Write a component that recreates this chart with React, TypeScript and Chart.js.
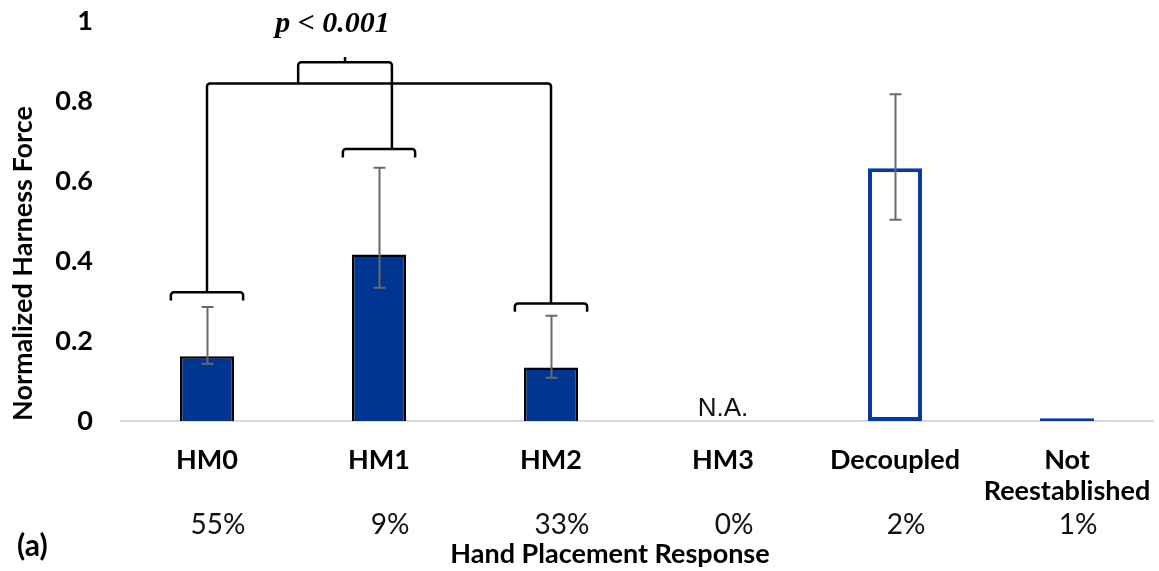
import React, { useEffect, useRef } from 'react';
import { Chart, registerables } from 'chart.js';

Chart.register(...registerables);

// ---- data ----
const categories: string[][] = [['HM0'], ['HM1'], ['HM2'], ['HM3'], ['Decoupled'], ['Not', 'Reestablished']];
const meanForce: (number | null)[] = [0.162, 0.416, 0.134, null, 0.632, 0.007];
const errLow: (number | null)[] = [0.143, 0.333, 0.108, null, 0.503, null];
const errHigh: (number | null)[] = [0.285, 0.633, 0.263, null, 0.817, null];
const responseShare: string[] = ['55%', '9%', '33%', '0%', '2%', '1%'];
const yTickValues: number[] = [0, 0.2, 0.4, 0.6, 0.8, 1];

// significance bracket annotation (category index / force units)
const bracketCats: number[] = [0, 1, 2];
const bracketLevels: number[] = [0.322, 0.68, 0.294];
const bracketHalfSpan = 0.21;
const bracketLeg = 0.021;
const linkLevel = 0.844;
const pairSpan: number[] = [0.53, 1.075];
const pairLevel = 0.897;
const pairTickLevel = 0.91;
const pLabel = 'p < 0.001';
const pLabelPos: number[] = [0.73, 0.9725];

const xTitle = 'Hand Placement Response';
const yTitle = 'Normalized Harness Force';
const panelLabel = '(a)';

const SANS = 'Lato, "Open Sans", sans-serif';

const annotationPlugin = {
  id: 'annotations',
  afterDatasetsDraw(chart: any) {
    const { ctx } = chart;
    const xs = chart.scales.x;
    const ys = chart.scales.y;
    ctx.save();

    // error bars
    ctx.strokeStyle = '#6A6A6A';
    ctx.lineWidth = 2;
    for (let i = 0; i < categories.length; i++) {
      const lo = errLow[i];
      const hi = errHigh[i];
      if (lo == null || hi == null) continue;
      const x = Math.round(xs.getPixelForValue(i)) + 0.5;
      const y1 = ys.getPixelForValue(lo);
      const y2 = ys.getPixelForValue(hi);
      ctx.beginPath();
      ctx.moveTo(x, y1);
      ctx.lineTo(x, y2);
      ctx.moveTo(x - 6, y1);
      ctx.lineTo(x + 6, y1);
      ctx.moveTo(x - 6, y2);
      ctx.lineTo(x + 6, y2);
      ctx.stroke();
    }

    // N.A. for missing categories
    ctx.fillStyle = '#111';
    ctx.font = '26px "Liberation Sans", Arial, sans-serif';
    ctx.textAlign = 'center';
    ctx.textBaseline = 'alphabetic';
    for (let i = 0; i < categories.length; i++) {
      if (meanForce[i] == null) {
        ctx.fillText('N.A.', xs.getPixelForValue(i), ys.getPixelForValue(0) - 5);
      }
    }

    // brackets
    ctx.strokeStyle = '#000';
    ctx.lineWidth = 2.5;
    ctx.lineJoin = 'round';
    ctx.lineCap = 'butt';
    const r = 3;
    const px = (v: number) => xs.getPixelForValue(v);
    const py = (v: number) => ys.getPixelForValue(v);
    const legPx = py(0) - py(bracketLeg);
    bracketCats.forEach((c, k) => {
      const xl = px(c - bracketHalfSpan);
      const xr = px(c + bracketHalfSpan);
      const yb = py(bracketLevels[k]);
      ctx.beginPath();
      ctx.moveTo(xl, yb + legPx);
      ctx.arcTo(xl, yb, xr, yb, r);
      ctx.arcTo(xr, yb, xr, yb + legPx, r);
      ctx.lineTo(xr, yb + legPx);
      ctx.stroke();
    });
    // link first and last brackets
    const first = bracketCats[0];
    const last = bracketCats[bracketCats.length - 1];
    ctx.beginPath();
    ctx.moveTo(px(first), py(bracketLevels[0]));
    ctx.arcTo(px(first), py(linkLevel), px(last), py(linkLevel), r);
    ctx.arcTo(px(last), py(linkLevel), px(last), py(bracketLevels[bracketLevels.length - 1]), r);
    ctx.lineTo(px(last), py(bracketLevels[bracketLevels.length - 1]));
    ctx.stroke();
    // pair bracket linking group with middle bracket
    ctx.beginPath();
    ctx.moveTo(px(pairSpan[0]), py(linkLevel));
    ctx.arcTo(px(pairSpan[0]), py(pairLevel), px(pairSpan[1]), py(pairLevel), r);
    ctx.arcTo(px(pairSpan[1]), py(pairLevel), px(pairSpan[1]), py(bracketLevels[1]), r);
    ctx.lineTo(px(pairSpan[1]), py(bracketLevels[1]));
    ctx.stroke();
    const mid = (pairSpan[0] + pairSpan[1]) / 2;
    ctx.beginPath();
    ctx.moveTo(px(mid), py(pairLevel));
    ctx.lineTo(px(mid), py(pairTickLevel));
    ctx.stroke();

    // p-value
    ctx.fillStyle = '#000';
    ctx.font = 'italic bold 30px "Liberation Serif", "Times New Roman", serif';
    ctx.textAlign = 'center';
    ctx.textBaseline = 'alphabetic';
    ctx.fillText(pLabel, px(pLabelPos[0]), py(pLabelPos[1]));

    // response share row
    const base = xs.top;
    ctx.font = `28px ${SANS}`;
    ctx.textBaseline = 'middle';
    ctx.fillStyle = '#111';
    responseShare.forEach((t, i) => {
      ctx.fillText(t, px(i) + 11, base + 104);
    });

    // axis title
    ctx.font = `bold 27px ${SANS}`;
    ctx.fillStyle = '#000';
    ctx.fillText(xTitle, px(2.343), base + 133);

    // panel label
    ctx.font = `bold 30px ${SANS}`;
    ctx.textAlign = 'left';
    ctx.fillText(panelLabel, 17, base + 125);

    ctx.restore();
  },
};

export default function App() {
  const ref = useRef<HTMLCanvasElement | null>(null);

  useEffect(() => {
    if (!ref.current) return;
    const chart = new Chart(ref.current, {
      type: 'bar',
      data: {
        labels: categories,
        datasets: [
          {
            data: meanForce as any,
            backgroundColor: (c: any) => (c.dataIndex >= 4 ? '#FFFFFF' : '#003591'),
            borderColor: (c: any) => (c.dataIndex >= 4 ? '#0A3A9C' : '#000000'),
            borderWidth: (c: any) => (c.dataIndex === 4 ? 4 : c.dataIndex === 5 ? 1.4 : 2.5),
            borderSkipped: (c: any) => (c.dataIndex >= 4 ? false : 'start'),
            barPercentage: 0.314,
            categoryPercentage: 1,
          } as any,
        ],
      },
      options: {
        responsive: false,
        animation: false,
        devicePixelRatio: 1,
        layout: { padding: { top: 21, right: 6, bottom: 0, left: 0 } },
        plugins: { legend: { display: false }, tooltip: { enabled: false } },
        scales: {
          x: {
            grid: { display: false, drawTicks: false },
            border: { display: true, color: '#D9D9D9', width: 2 },
            ticks: {
              color: '#000',
              font: { family: SANS, size: 27, weight: 'bold', lineHeight: 1.18 },
              padding: 23,
              maxRotation: 0,
              autoSkip: false,
            },
            afterFit: (s: any) => {
              s.height = 150;
              s.paddingLeft = 0;
              s.paddingRight = 0;
            },
          },
          y: {
            min: 0,
            max: 1,
            grid: { display: false, drawTicks: false },
            border: { display: false },
            afterBuildTicks: (s: any) => {
              s.ticks = yTickValues.map((v) => ({ value: v }));
            },
            ticks: {
              color: '#000',
              font: { family: SANS, size: 27, weight: 'bold' },
              padding: 28,
              callback: (v: any) => String(Math.round(Number(v) * 10) / 10),
            },
            title: {
              display: true,
              text: yTitle,
              align: 'start',
              color: '#000',
              font: { family: SANS, size: 27, weight: 'bold', lineHeight: 1.2 },
              padding: { top: 7, bottom: 0 },
            },
            afterFit: (s: any) => {
              s.width = 121;
              s.paddingTop = 0;
              s.paddingBottom = 0;
            },
          },
        },
      } as any,
      plugins: [annotationPlugin],
    });
    return () => chart.destroy();
  }, []);

  return (
    <div style={{ position: 'absolute', left: 0, top: 0, width: 1159, height: 571, background: '#fff' }}>
      <canvas ref={ref} width={1159} height={571} style={{ display: 'block', width: 1159, height: 571 }} />
    </div>
  );
}
